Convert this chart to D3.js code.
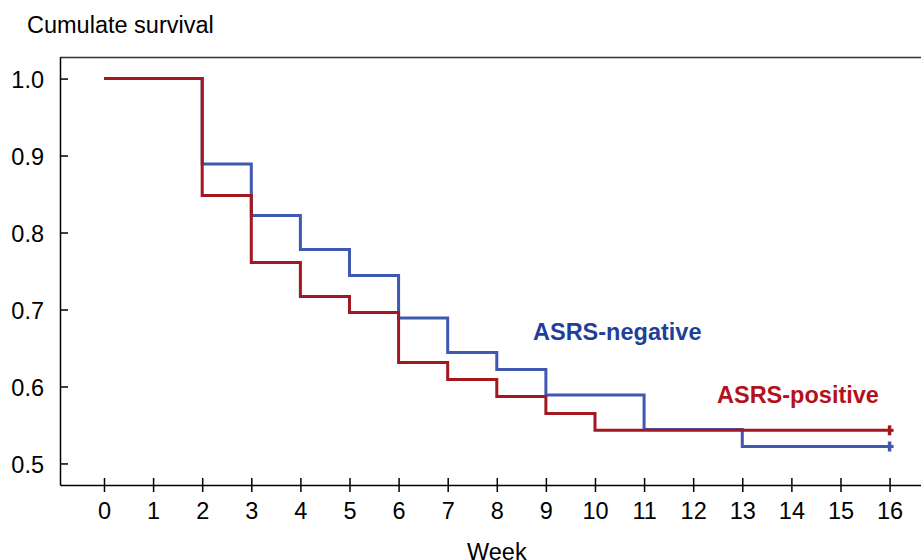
<!DOCTYPE html>
<html>
<head>
<meta charset="utf-8">
<script src="https://cdn.jsdelivr.net/npm/d3@7"></script>
<style>
  body { margin: 0; background: #fff; }
  svg { display: block; font-family: Arial, "Liberation Sans", sans-serif; }
</style>
</head>
<body>
<div id="chart"></div>
<script>
// step values, each holds from weeks[i] to weeks[i+1]
const negWeeks = [0, 2, 3, 4, 5, 6, 7, 8, 9, 11, 13, 16];
const negSurv  = [1.0, 0.889, 0.822, 0.778, 0.744, 0.689, 0.644, 0.622, 0.589, 0.544, 0.522, 0.522];
const posWeeks = [0, 2, 3, 4, 5, 6, 7, 8, 9, 10, 16];
const posSurv  = [1.0, 0.848, 0.761, 0.717, 0.696, 0.631, 0.609, 0.587, 0.565, 0.543, 0.543];
const xTicks = d3.range(0, 17);
const yTicks = [0.5, 0.6, 0.7, 0.8, 0.9, 1.0];

(function() {
    const width = 921, height = 560;
    const left = 60, right = 921, top = 57, bottom = 485;
    const fs = 23.5;

    const x = d3.scaleLinear().domain([-0.896, 16.64]).range([left, right]);
    const y = d3.scaleLinear().domain([0.472, 1.028]).range([bottom, top]);

    const svg = d3.select("#chart").append("svg")
        .attr("width", width)
        .attr("height", height);

    // frame: top border, left and bottom axes
    svg.append("line")
        .attr("x1", left).attr("x2", right)
        .attr("y1", top + 0.5).attr("y2", top + 0.5)
        .attr("stroke", "#333").attr("stroke-width", 1.5);

    const xAxis = svg.append("g")
        .attr("transform", `translate(0,${bottom})`)
        .call(d3.axisBottom(x).tickValues(xTicks).tickSize(7).tickSizeOuter(0).tickPadding(10))
        .attr("font-size", fs).attr("font-family", null);
    xAxis.select(".domain").attr("stroke", "#000").attr("stroke-width", 1.5);
    xAxis.selectAll(".tick line").attr("y1", -7).attr("stroke-width", 1.5);
    xAxis.selectAll(".tick text").attr("fill", "#000").attr("dy", "0.71em");

    const yAxis = svg.append("g")
        .attr("transform", `translate(${left},0)`)
        .call(d3.axisLeft(y).tickValues(yTicks).tickFormat(d3.format(".1f")).tickSize(7).tickSizeOuter(0).tickPadding(9))
        .attr("font-size", fs).attr("font-family", null);
    yAxis.select(".domain").attr("stroke", "#000").attr("stroke-width", 1.5);
    yAxis.selectAll(".tick line").attr("x2", 8).attr("stroke-width", 1.5);
    yAxis.selectAll(".tick text").attr("fill", "#000").attr("dy", "0.38em");

    const step = d3.line()
        .x(d => x(d[0]))
        .y(d => y(d[1]))
        .curve(d3.curveStepAfter);

    const series = [
        { weeks: negWeeks, surv: negSurv, color: "#3f59b2" },
        { weeks: posWeeks, surv: posSurv, color: "#a3171f" }
    ];

    series.forEach(s => {
        const pts = s.weeks.map((w, i) => [w, s.surv[i]]);
        svg.append("path")
            .datum(pts)
            .attr("fill", "none")
            .attr("stroke", s.color)
            .attr("stroke-width", 3)
            .attr("d", step);

        // censor mark at the end
        const last = pts[pts.length - 1];
        svg.append("line")
            .attr("x1", x(last[0]) - 1).attr("x2", x(last[0]) + 4)
            .attr("y1", y(last[1])).attr("y2", y(last[1]))
            .attr("stroke", s.color).attr("stroke-width", 3);
        svg.append("line")
            .attr("x1", x(last[0])).attr("x2", x(last[0]))
            .attr("y1", y(last[1]) - 5).attr("y2", y(last[1]) + 5)
            .attr("stroke", s.color).attr("stroke-width", 3.5);
    });

    svg.append("text")
        .attr("x", 533).attr("y", 340)
        .attr("font-size", fs).attr("font-weight", "bold")
        .attr("fill", "#1f3f9a")
        .text("ASRS-negative");

    svg.append("text")
        .attr("x", 717).attr("y", 403)
        .attr("font-size", fs).attr("font-weight", "bold")
        .attr("fill", "#b3121a")
        .text("ASRS-positive");

    svg.append("text")
        .attr("x", 27).attr("y", 33)
        .attr("font-size", fs)
        .text("Cumulate survival");

    svg.append("text")
        .attr("x", 467).attr("y", 560)
        .attr("font-size", fs)
        .text("Week");
}());
</script>
</body>
</html>
